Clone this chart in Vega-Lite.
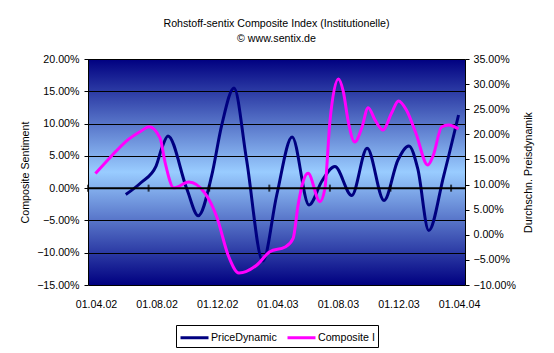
{
  "$schema": "https://vega.github.io/schema/vega-lite/v6.json",
  "width": 377,
  "height": 226,
  "autosize": {"type": "none"},
  "padding": {"left": 88, "top": 59, "right": 89, "bottom": 68},
  "background": "white",
  "view": {
    "stroke": null,
    "fill": {"gradient": "linear", "x1": 0, "y1": 0, "x2": 0, "y2": 1,
      "stops": [{"offset": 0, "color": "#000080"}, {"offset": 0.5, "color": "#99CCFF"}, {"offset": 1, "color": "#000080"}]}
  },
  "title": {
    "text": "Rohstoff-sentix Composite Index (Institutionelle)",
    "subtitle": "© www.sentix.de",
    "anchor": "middle",
    "frame": "group",
    "font": "Liberation Sans",
    "fontSize": 10.67,
    "fontWeight": "normal",
    "color": "black",
    "subtitleFont": "Liberation Sans",
    "subtitleFontSize": 10.67,
    "subtitleColor": "black",
    "subtitlePadding": 5,
    "offset": 8
  },
  "datasets": {
    "composite": [
      {"date": "2002-04-16", "series": "Composite I", "value": 0.0227},
      {"date": "2002-05-17", "series": "Composite I", "value": 0.0487},
      {"date": "2002-06-16", "series": "Composite I", "value": 0.0722},
      {"date": "2002-07-17", "series": "Composite I", "value": 0.0885},
      {"date": "2002-08-02", "series": "Composite I", "value": 0.0952},
      {"date": "2002-08-24", "series": "Composite I", "value": 0.0777},
      {"date": "2002-09-03", "series": "Composite I", "value": 0.0405},
      {"date": "2002-09-21", "series": "Composite I", "value": 0.0002},
      {"date": "2002-10-21", "series": "Composite I", "value": 0.0095},
      {"date": "2002-11-22", "series": "Composite I", "value": -0.0075},
      {"date": "2002-12-17", "series": "Composite I", "value": -0.0462},
      {"date": "2003-01-08", "series": "Composite I", "value": -0.1035},
      {"date": "2003-01-30", "series": "Composite I", "value": -0.1314},
      {"date": "2003-03-07", "series": "Composite I", "value": -0.1190},
      {"date": "2003-04-02", "series": "Composite I", "value": -0.0984},
      {"date": "2003-05-03", "series": "Composite I", "value": -0.0912},
      {"date": "2003-05-19", "series": "Composite I", "value": -0.0777},
      {"date": "2003-05-29", "series": "Composite I", "value": -0.0261},
      {"date": "2003-06-08", "series": "Composite I", "value": 0.0100},
      {"date": "2003-06-18", "series": "Composite I", "value": 0.0230},
      {"date": "2003-07-12", "series": "Composite I", "value": -0.0210},
      {"date": "2003-07-22", "series": "Composite I", "value": -0.0002},
      {"date": "2003-08-01", "series": "Composite I", "value": 0.1029},
      {"date": "2003-08-18", "series": "Composite I", "value": 0.1690},
      {"date": "2003-08-28", "series": "Composite I", "value": 0.1494},
      {"date": "2003-09-07", "series": "Composite I", "value": 0.1029},
      {"date": "2003-09-20", "series": "Composite I", "value": 0.0715},
      {"date": "2003-10-04", "series": "Composite I", "value": 0.0927},
      {"date": "2003-10-17", "series": "Composite I", "value": 0.1246},
      {"date": "2003-10-31", "series": "Composite I", "value": 0.1055},
      {"date": "2003-11-16", "series": "Composite I", "value": 0.0900},
      {"date": "2003-12-03", "series": "Composite I", "value": 0.1159},
      {"date": "2003-12-17", "series": "Composite I", "value": 0.1350},
      {"date": "2004-01-02", "series": "Composite I", "value": 0.1210},
      {"date": "2004-01-21", "series": "Composite I", "value": 0.0854},
      {"date": "2004-02-14", "series": "Composite I", "value": 0.0358},
      {"date": "2004-02-25", "series": "Composite I", "value": 0.0506},
      {"date": "2004-03-13", "series": "Composite I", "value": 0.0947},
      {"date": "2004-03-27", "series": "Composite I", "value": 0.0978},
      {"date": "2004-04-16", "series": "Composite I", "value": 0.0916}
    ],
    "price": [
      {"date": "2002-06-16", "series": "PriceDynamic", "value": 0.0802},
      {"date": "2002-07-17", "series": "PriceDynamic", "value": 0.1041},
      {"date": "2002-08-16", "series": "PriceDynamic", "value": 0.1369},
      {"date": "2002-08-27", "series": "PriceDynamic", "value": 0.1708},
      {"date": "2002-09-09", "series": "PriceDynamic", "value": 0.1967},
      {"date": "2002-10-17", "series": "PriceDynamic", "value": 0.0911},
      {"date": "2002-11-09", "series": "PriceDynamic", "value": 0.0380},
      {"date": "2002-12-06", "series": "PriceDynamic", "value": 0.1176},
      {"date": "2002-12-26", "series": "PriceDynamic", "value": 0.2172},
      {"date": "2003-01-20", "series": "PriceDynamic", "value": 0.2923},
      {"date": "2003-02-14", "series": "PriceDynamic", "value": 0.1509},
      {"date": "2003-03-19", "series": "PriceDynamic", "value": -0.0522},
      {"date": "2003-04-16", "series": "PriceDynamic", "value": 0.0792},
      {"date": "2003-05-17", "series": "PriceDynamic", "value": 0.1947},
      {"date": "2003-06-20", "series": "PriceDynamic", "value": 0.0593},
      {"date": "2003-07-16", "series": "PriceDynamic", "value": 0.1071},
      {"date": "2003-08-11", "series": "PriceDynamic", "value": 0.1359},
      {"date": "2003-09-14", "series": "PriceDynamic", "value": 0.0782},
      {"date": "2003-10-15", "series": "PriceDynamic", "value": 0.1722},
      {"date": "2003-11-18", "series": "PriceDynamic", "value": 0.0683},
      {"date": "2003-12-16", "series": "PriceDynamic", "value": 0.1489},
      {"date": "2004-01-07", "series": "PriceDynamic", "value": 0.1768},
      {"date": "2004-01-25", "series": "PriceDynamic", "value": 0.1310},
      {"date": "2004-02-16", "series": "PriceDynamic", "value": 0.0085},
      {"date": "2004-03-17", "series": "PriceDynamic", "value": 0.1170},
      {"date": "2004-04-16", "series": "PriceDynamic", "value": 0.2385}
    ],
    "ticks": [
      {"date": "2002-04-01"}, {"date": "2002-08-01"}, {"date": "2002-12-01"},
      {"date": "2003-04-01"}, {"date": "2003-08-01"}, {"date": "2003-12-01"},
      {"date": "2004-04-01"}
    ]
  },
  "layer": [
    {
      "data": {"name": "price"},
      "mark": {"type": "line", "strokeWidth": 3, "interpolate": "monotone"},
      "encoding": {
        "x": {"field": "date", "type": "temporal",
          "scale": {"type": "utc", "domain": [{"year": 2002, "month": 4, "date": 1, "utc": true}, {"year": 2004, "month": 4, "date": 29, "utc": true}]},
          "axis": {"orient": "bottom", "format": "%d.%m.%y",
            "values": [
              {"year": 2002, "month": 4, "date": 1, "utc": true},
              {"year": 2002, "month": 8, "date": 1, "utc": true},
              {"year": 2002, "month": 12, "date": 1, "utc": true},
              {"year": 2003, "month": 4, "date": 1, "utc": true},
              {"year": 2003, "month": 8, "date": 1, "utc": true},
              {"year": 2003, "month": 12, "date": 1, "utc": true},
              {"year": 2004, "month": 4, "date": 1, "utc": true}],
            "domain": false, "ticks": false, "tickSize": 0, "grid": false,
            "labelPadding": 14, "labelOffset": 8, "labelFlush": false, "labelOverlap": false, "labelBound": false,
            "title": null}},
        "y": {"field": "value", "type": "quantitative",
          "scale": {"domain": [-0.1, 0.35], "nice": false, "zero": false},
          "axis": {"orient": "right", "values": [-0.1, -0.05, 0, 0.05, 0.1, 0.15, 0.2, 0.25, 0.3, 0.35],
            "format": ".2%", "grid": false, "domainColor": "black", "domainWidth": 1,
            "tickColor": "black", "tickSize": 4, "labelPadding": 4, "labelOverlap": false, "labelFlush": false,
            "title": "Durchschn. Preisdynamik", "titleAngle": -90, "titleBaseline": "top", "titlePadding": 8}},
        "color": {"field": "series", "type": "nominal",
          "scale": {"domain": ["PriceDynamic", "Composite I"], "range": ["#000080", "#FF00FF"]},
          "legend": {"orient": "bottom", "direction": "horizontal", "title": null, "strokeColor": "black", "fillColor": "white",
            "padding": 3, "labelFontSize": 10.67, "labelColor": "black", "symbolType": "M-1,0H2.5", "symbolSize": 256,
            "symbolStrokeWidth": 3, "labelOffset": 13, "columnPadding": 4, "offset": 16}}
      }
    },
    {
      "layer": [
        {
          "data": {"name": "composite"},
          "mark": {"type": "line", "strokeWidth": 3, "interpolate": "monotone"},
          "encoding": {
            "x": {"field": "date", "type": "temporal",
              "scale": {"type": "utc", "domain": [{"year": 2002, "month": 4, "date": 1, "utc": true}, {"year": 2004, "month": 4, "date": 29, "utc": true}]}},
            "y": {"field": "value", "type": "quantitative",
              "scale": {"domain": [-0.15, 0.2], "nice": false, "zero": false},
              "axis": {"orient": "left", "values": [-0.15, -0.1, -0.05, 0, 0.05, 0.1, 0.15, 0.2],
                "format": ".2%", "grid": true, "gridColor": "black", "gridWidth": 1, "gridOpacity": 1,
                "domainColor": "black", "domainWidth": 1, "tickColor": "black", "tickSize": 4, "labelPadding": 5,
                "labelOverlap": false, "labelFlush": false, "tickCount": 8,
                "title": "Composite Sentiment", "titlePadding": 6}},
            "color": {"field": "series", "type": "nominal",
              "scale": {"domain": ["PriceDynamic", "Composite I"], "range": ["#000080", "#FF00FF"]}}
          }
        },
        {
          "data": {"values": [{}]},
          "mark": {"type": "rule", "color": "black", "strokeWidth": 2},
          "encoding": {"y": {"datum": 0, "type": "quantitative",
              "axis": {"orient": "left", "values": [-0.15, -0.1, -0.05, 0, 0.05, 0.1, 0.15, 0.2],
                "format": ".2%", "grid": true, "gridColor": "black", "gridWidth": 1, "gridOpacity": 1,
                "domainColor": "black", "domainWidth": 1, "tickColor": "black", "tickSize": 4, "labelPadding": 5,
                "labelOverlap": false, "labelFlush": false, "tickCount": 8,
                "title": "Composite Sentiment", "titlePadding": 6}}}
        },
        {
          "data": {"name": "ticks"},
          "mark": {"type": "tick", "orient": "vertical", "color": "black", "size": 7, "thickness": 2},
          "encoding": {
            "x": {"field": "date", "type": "temporal"},
            "y": {"datum": 0, "type": "quantitative",
              "axis": {"orient": "left", "values": [-0.15, -0.1, -0.05, 0, 0.05, 0.1, 0.15, 0.2],
                "format": ".2%", "grid": true, "gridColor": "black", "gridWidth": 1, "gridOpacity": 1,
                "domainColor": "black", "domainWidth": 1, "tickColor": "black", "tickSize": 4, "labelPadding": 5,
                "labelOverlap": false, "labelFlush": false, "tickCount": 8,
                "title": "Composite Sentiment", "titlePadding": 6}}
          }
        }
      ]
    }
  ],
  "resolve": {"scale": {"y": "independent"}},
  "config": {
    "font": "Liberation Sans",
    "axis": {"labelFont": "Liberation Sans", "labelFontSize": 10.67, "labelColor": "black",
      "titleFont": "Liberation Sans", "titleFontSize": 10.67, "titleFontWeight": "normal", "titleColor": "black"},
    "legend": {"labelFont": "Liberation Sans", "layout": {"bottom": {"anchor": "middle"}}}
  }
}
